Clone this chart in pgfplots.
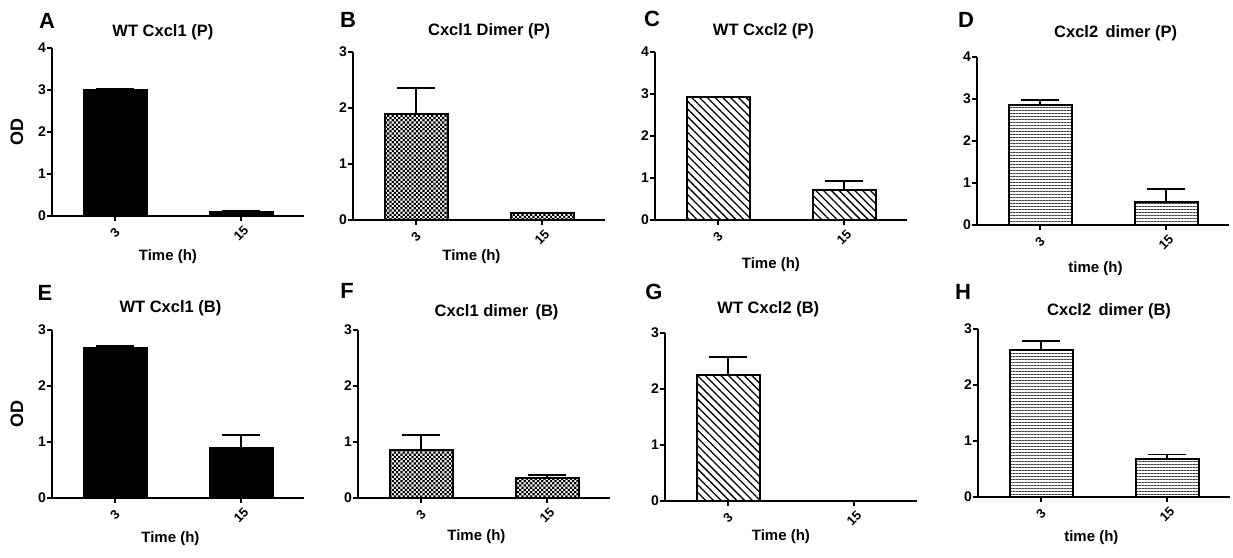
\documentclass[border=0pt]{standalone}
\usepackage{fontspec}
\setmainfont{Liberation Sans}
\usepackage{pgfplots}
\pgfplotsset{compat=1.18}
\usetikzlibrary{patterns,patterns.meta}

\pgfdeclarepatternformonly{finecheck}{\pgfpoint{-0.05pt}{-0.05pt}}{\pgfpoint{4.45pt}{4.45pt}}{\pgfpoint{4.4pt}{4.4pt}}{%
  \pgfpathrectangle{\pgfpoint{0pt}{0pt}}{\pgfpoint{2.2pt}{2.2pt}}%
  \pgfpathrectangle{\pgfpoint{2.2pt}{2.2pt}}{\pgfpoint{2.2pt}{2.2pt}}%
  \pgfusepath{fill}}

\newcommand{\tlfont}{\fontsize{13}{15}\selectfont\bfseries}
\newcommand{\ytlfont}{\fontsize{14}{16}\selectfont\bfseries}

\pgfplotsset{
  every axis title shift=0pt,
  panel/.style={
    scale only axis, width=252pt, height=168pt, anchor=south west,
    xmin=-0.5, xmax=1.5, ymin=0,
    axis x line*=bottom, axis y line*=left,
    axis line style={line width=2.7pt},
    xtick={0,1}, xticklabels={{\tlfont 3},{\tlfont 15}},
    yticklabel={\ytlfont\pgfmathprintnumber[assume math mode=true]{\tick}},
    xtick pos=lower, ytick pos=left,
    tick align=outside, major tick length=5pt,
    every tick/.style={black, line width=2pt},
    minor tick num=0,
    ybar, bar width=0.5,
    /pgf/number format/assume math mode=true,
    xticklabel style={font=\tlfont, rotate=45, anchor=center},
    xticklabel shift=12pt,
    yticklabel style={font=\ytlfont, inner sep=1pt},
    title style={font=\fontsize{16.5}{19}\selectfont\bfseries, anchor=center},
    label style={font=\fontsize{15}{18}\selectfont\bfseries},
    ylabel style={font=\fontsize{18}{21}\selectfont\bfseries, at={(axis description cs:-0.139,0.5)}, anchor=center},
    clip=false,
  },
  errs/.style={
    error bars/.cd, y dir=plus, y explicit,
    error bar style={line width=1.8pt, black},
    error mark options={rotate=90, mark size=19pt, line width=1.8pt, black},
  },
  solidbar/.style={fill=black, draw=black, line width=2pt},
  checkbar/.style={pattern=finecheck, draw=black, line width=2pt},
  diagbar/.style={pattern={Lines[angle=-45, distance=5.5pt, line width=1.3pt]}, draw=black, line width=2pt},
  horizbar/.style={pattern={Lines[angle=0, distance=3pt, line width=0.7pt]}, pattern color=black!75, draw=black, line width=2pt},
}

\newcommand{\letter}[3]{\node[font=\fontsize{22}{24}\selectfont\bfseries, anchor=center] at (#1pt,#2pt) {#3};}

\begin{document}
\begin{tikzpicture}
\path[use as bounding box] (0pt,0pt) rectangle (1233pt,557pt);

% ---------- A ----------
\begin{axis}[panel, at={(52pt,341pt)}, ymax=4, ytick={0,1,2,3,4},
  title={WT Cxcl1 (P)}, title style={at={(rel axis cs:0.44,1)}, yshift=16pt},
  xlabel={Time (h)}, xlabel style={at={(axis description cs:0.46,-0.244)}, anchor=center},
  ylabel={OD}]
\addplot[solidbar, errs] coordinates {(0,3.00) +- (0,0.03) (1,0.10) +- (0,0.02)};
\end{axis}

% ---------- B ----------
\begin{axis}[panel, at={(353pt,337pt)}, ymax=3, ytick={0,1,2,3},
  title={Cxcl1 Dimer (P)}, title style={at={(rel axis cs:0.54,1)}, yshift=21pt},
  xlabel={Time (h)}, xlabel style={at={(axis description cs:0.47,-0.216)}, anchor=center}]
\addplot[checkbar, errs] coordinates {(0,1.90) +- (0,0.45) (1,0.12) +- (0,0.01)};
\end{axis}

% ---------- C ----------
\begin{axis}[panel, at={(655pt,337pt)}, ymax=4, ytick={0,1,2,3,4},
  title={WT Cxcl2 (P)}, title style={at={(rel axis cs:0.43,1)}, yshift=21pt},
  xlabel={Time (h)}, xlabel style={at={(axis description cs:0.46,-0.263)}, anchor=center}]
\addplot[diagbar, errs] coordinates {(0,2.92) +- (0,0.01) (1,0.72) +- (0,0.20)};
\end{axis}

% ---------- D ----------
\begin{axis}[panel, at={(977pt,332pt)}, ymax=4, ytick={0,1,2,3,4},
  title={Cxcl2\, dimer (P)}, title style={at={(rel axis cs:0.55,1)}, yshift=24pt},
  xlabel={time (h)}, xlabel style={at={(axis description cs:0.47,-0.262)}, anchor=center}]
\addplot[horizbar, errs] coordinates {(0,2.85) +- (0,0.12) (1,0.55) +- (0,0.31)};
\end{axis}

% ---------- E ----------
\begin{axis}[panel, at={(52pt,59pt)}, ymax=3, ytick={0,1,2,3},
  title={WT Cxcl1 (B)}, title style={at={(rel axis cs:0.47,1)}, yshift=22pt},
  xlabel={Time (h)}, xlabel style={at={(axis description cs:0.47,-0.244)}, anchor=center},
  ylabel={OD}]
\addplot[solidbar, errs] coordinates {(0,2.67) +- (0,0.04) (1,0.90) +- (0,0.22)};
\end{axis}

% ---------- F ----------
\begin{axis}[panel, at={(358pt,59pt)}, ymax=3, ytick={0,1,2,3},
  title={Cxcl1 dimer\, (B)}, title style={at={(rel axis cs:0.55,1)}, yshift=18pt},
  xlabel={Time (h)}, xlabel style={at={(axis description cs:0.47,-0.232)}, anchor=center}]
\addplot[checkbar, errs] coordinates {(0,0.85) +- (0,0.27) (1,0.36) +- (0,0.05)};
\end{axis}

% ---------- G ----------
\begin{axis}[panel, at={(665pt,56pt)}, ymax=3, ytick={0,1,2,3},
  title={WT Cxcl2 (B)}, title style={at={(rel axis cs:0.41,1)}, yshift=24pt},
  xlabel={Time (h)}, xlabel style={at={(axis description cs:0.46,-0.214)}, anchor=center}]
\addplot[diagbar, errs] coordinates {(0,2.25) +- (0,0.32) (1,0) +- (0,0)};
\end{axis}

% ---------- H ----------
\begin{axis}[panel, at={(978pt,60pt)}, ymax=3, ytick={0,1,2,3},
  title={Cxcl2\, dimer (B)}, title style={at={(rel axis cs:0.52,1)}, yshift=18pt},
  xlabel={time (h)}, xlabel style={at={(axis description cs:0.45,-0.244)}, anchor=center}]
\addplot[horizbar, errs] coordinates {(0,2.63) +- (0,0.16) (1,0.67) +- (0,0.09)};
\end{axis}

\letter{47}{536}{A}
\letter{348}{537}{B}
\letter{652}{538}{C}
\letter{966}{537}{D}
\letter{45}{264}{E}
\letter{347}{266}{F}
\letter{654}{265}{G}
\letter{963}{265}{H}
\end{tikzpicture}
\end{document}
